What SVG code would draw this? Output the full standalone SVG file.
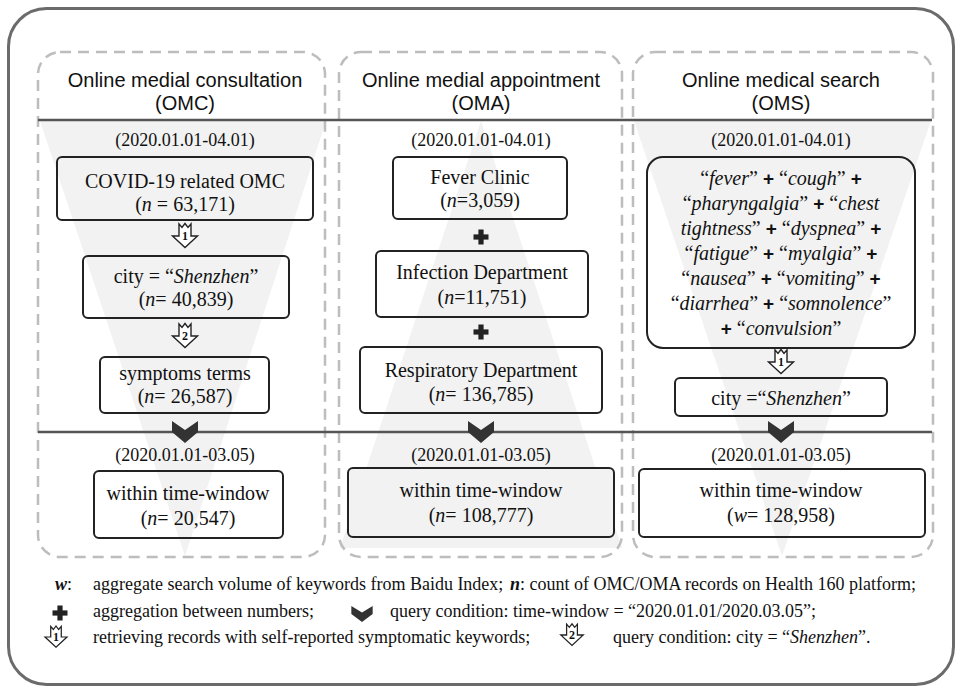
<svg xmlns="http://www.w3.org/2000/svg" xmlns:xlink="http://www.w3.org/1999/xlink" width="956" height="687" viewBox="0 0 956 687">
<style>
.sans{font-family:"Liberation Sans",Arial,sans-serif;font-size:20px;fill:#111;text-anchor:middle}
.ser{font-family:"Liberation Serif","Times New Roman",serif;font-size:20px;fill:#111;text-anchor:middle}
.date{font-family:"Liberation Serif","Times New Roman",serif;font-size:18px;fill:#111;text-anchor:middle}
.leg{font-family:"Liberation Serif","Times New Roman",serif;font-size:18px;fill:#111}
.box{fill:none;stroke:#222;stroke-width:2}
.col{fill:none;stroke:#bdbdbd;stroke-width:2.5;stroke-dasharray:11 7}
.sep{stroke:#555;stroke-width:2.5}
.fun{fill:#f2f2f2}
.it{font-style:italic}
.pl{font-family:"Liberation Sans",Arial,sans-serif;font-weight:bold;font-style:normal;font-size:19px}
.num{font-family:"Liberation Serif","Times New Roman",serif;font-size:12px;font-weight:bold;fill:#111;text-anchor:middle}
</style>
<defs>
<path id="arr" d="M-6,-12 L-3,-8.5 L0,-12.5 L3,-8.5 L6,-12 L6,0 L12.5,0 L0,11.5 L-12.5,0 L-6,0 Z" fill="#fff" stroke="#222" stroke-width="1.4" stroke-linejoin="miter"/>
<path id="chev" d="M-13,-11 L0,-2 L13,-11 L13,0 L0,11 L-13,0 Z" fill="#333"/>
<g id="plus" fill="#222"><rect x="-2.6" y="-7.5" width="5.2" height="15"/><rect x="-7.5" y="-2.6" width="15" height="5.2"/></g>
</defs>

<rect x="8.5" y="8.5" width="945" height="676" rx="38" fill="#fff" stroke="#6b6b6b" stroke-width="3"/>

<!-- funnels -->
<polygon class="fun" points="40,121 326,121 185,556"/>
<polygon class="fun" points="481,121 622,548 340,548"/>
<polygon class="fun" points="634,121 931,121 782,556"/>

<!-- column frames -->
<rect class="col" x="38" y="52" width="287" height="505" rx="22"/>
<rect class="col" x="339" y="52" width="283" height="505" rx="22"/>
<rect class="col" x="633" y="52" width="300" height="505" rx="22"/>

<!-- separators -->
<line class="sep" x1="38" y1="120" x2="932" y2="120"/>
<line class="sep" x1="38" y1="432" x2="932" y2="432"/>

<!-- titles -->
<g id="title-omc">
<text class="sans" x="185" y="87">Online medial consultation</text>
<text class="sans" x="185" y="110">(OMC)</text>
</g>
<g id="title-oma">
<text class="sans" x="481" y="87">Online medial appointment</text>
<text class="sans" x="481" y="110">(OMA)</text>
</g>
<g id="title-oms">
<text class="sans" x="781" y="87">Online medical search</text>
<text class="sans" x="781" y="110">(OMS)</text>
</g>

<!-- dates -->
<text class="date" x="185" y="146">(2020.01.01-04.01)</text>
<text class="date" x="481" y="146">(2020.01.01-04.01)</text>
<text class="date" x="781" y="146">(2020.01.01-04.01)</text>
<text class="date" x="185" y="461">(2020.01.01-03.05)</text>
<text class="date" x="481" y="461">(2020.01.01-03.05)</text>
<text class="date" x="781" y="461">(2020.01.01-03.05)</text>

<!-- connectors -->
<g id="connectors">
<use xlink:href="#arr" x="185" y="236"/><text class="num" x="185" y="240">1</text>
<use xlink:href="#arr" x="185" y="336"/><text class="num" x="185" y="340">2</text>
<use xlink:href="#arr" x="781" y="362"/><text class="num" x="781" y="366">1</text>
<use xlink:href="#plus" x="481" y="237"/>
<use xlink:href="#plus" x="481" y="332"/>
<use xlink:href="#chev" x="185" y="432"/>
<use xlink:href="#chev" x="481" y="432"/>
<use xlink:href="#chev" x="781" y="432"/>
</g>

<!-- OMC column -->
<g id="omc-covid">
<rect class="box" x="57" y="157" width="256" height="63" rx="5"/>
<text class="ser" x="185" y="188">COVID-19 related OMC</text>
<text class="ser" x="185" y="211">(<tspan class="it">n</tspan> = 63,171)</text>
</g>
<g id="omc-city">
<rect class="box" x="83" y="256" width="206" height="62" rx="5"/>
<text class="ser" x="186" y="283">city = “<tspan class="it">Shenzhen</tspan>”</text>
<text class="ser" x="186" y="306">(<tspan class="it">n</tspan>= 40,839)</text>
</g>
<g id="omc-symptoms">
<rect class="box" x="100" y="357" width="169" height="56" rx="5"/>
<text class="ser" x="185" y="380">symptoms terms</text>
<text class="ser" x="185" y="403">(<tspan class="it">n</tspan>= 26,587)</text>
</g>
<g id="omc-window">
<rect class="box" x="94" y="471" width="189" height="67" rx="5"/>
<text class="ser" x="188" y="500">within time-window</text>
<text class="ser" x="188" y="525">(<tspan class="it">n</tspan>= 20,547)</text>
</g>

<!-- OMA column -->
<g id="oma-fever">
<rect class="box" x="393" y="157" width="174" height="62" rx="5"/>
<text class="ser" x="480" y="184">Fever Clinic</text>
<text class="ser" x="480" y="207">(<tspan class="it">n</tspan>=3,059)</text>
</g>
<g id="oma-infection">
<rect class="box" x="376" y="251" width="212" height="66" rx="5"/>
<text class="ser" x="482" y="279">Infection Department</text>
<text class="ser" x="482" y="304">(<tspan class="it">n</tspan>=11,751)</text>
</g>
<g id="oma-respiratory">
<rect class="box" x="360" y="347" width="242" height="66" rx="5"/>
<text class="ser" x="481" y="377">Respiratory Department</text>
<text class="ser" x="481" y="401">(<tspan class="it">n</tspan>= 136,785)</text>
</g>
<g id="oma-window">
<rect class="box" x="348" y="468" width="266" height="69" rx="5" style="fill:#f2f2f2"/>
<text class="ser" x="481" y="497">within time-window</text>
<text class="ser" x="481" y="522">(<tspan class="it">n</tspan>= 108,777)</text>
</g>

<!-- OMS column -->
<g id="oms-keywords">
<rect class="box" x="647" y="157" width="268" height="191" rx="16"/>
<text class="ser" x="781" y="185">“<tspan class="it">fever</tspan>” <tspan class="pl">+</tspan> “<tspan class="it">cough</tspan>” <tspan class="pl">+</tspan></text>
<text class="ser" x="781" y="210">“<tspan class="it">pharyngalgia</tspan>” <tspan class="pl">+</tspan> “<tspan class="it">chest</tspan></text>
<text class="ser" x="781" y="235"><tspan class="it">tightness</tspan>” <tspan class="pl">+</tspan> “<tspan class="it">dyspnea</tspan>” <tspan class="pl">+</tspan></text>
<text class="ser" x="781" y="260">“<tspan class="it">fatigue</tspan>” <tspan class="pl">+</tspan> “<tspan class="it">myalgia</tspan>” <tspan class="pl">+</tspan></text>
<text class="ser" x="781" y="285">“<tspan class="it">nausea</tspan>” <tspan class="pl">+</tspan> “<tspan class="it">vomiting</tspan>” <tspan class="pl">+</tspan></text>
<text class="ser" x="781" y="310">“<tspan class="it">diarrhea</tspan>” <tspan class="pl">+</tspan> “<tspan class="it">somnolence</tspan>”</text>
<text class="ser" x="781" y="335"><tspan class="pl">+</tspan>  “<tspan class="it">convulsion</tspan>”</text>
</g>
<g id="oms-city">
<rect class="box" x="675" y="378" width="212" height="38" rx="5"/>
<text class="ser" x="781" y="405">city =“<tspan class="it">Shenzhen</tspan>”</text>
</g>
<g id="oms-window">
<rect class="box" x="639" y="469" width="286" height="68" rx="5"/>
<text class="ser" x="781" y="497">within time-window</text>
<text class="ser" x="781" y="522">(<tspan class="it">w</tspan>= 128,958)</text>
</g>

<!-- legend -->
<g id="legend">
<text class="leg" x="55" y="590"><tspan font-weight="bold" font-style="italic">w</tspan>:</text>
<text class="leg" x="93" y="590">aggregate search volume of keywords from Baidu Index;</text>
<text class="leg" x="510" y="590" font-size="17.7"><tspan font-weight="bold" font-style="italic">n</tspan>: count of OMC/OMA records on Health 160 platform;</text>
<use xlink:href="#plus" x="60" y="613"/>
<text class="leg" x="93" y="617">aggregation between numbers;</text>
<use xlink:href="#chev" transform="translate(362,614) scale(0.82,0.72)"/>
<text class="leg" x="390" y="617">query condition: time-window = “2020.01.01/2020.03.05”;</text>
<use xlink:href="#arr" transform="translate(56,637) scale(0.88)"/>
<text class="num" x="56" y="641" font-size="11">1</text>
<text class="leg" x="93" y="643">retrieving records with self-reported symptomatic keywords;</text>
<use xlink:href="#arr" transform="translate(572,635) scale(0.9)"/>
<text class="num" x="572" y="639" font-size="11">2</text>
<text class="leg" x="613" y="643">query condition: city = “<tspan font-style="italic">Shenzhen</tspan>”.</text>
</g>
</svg>
